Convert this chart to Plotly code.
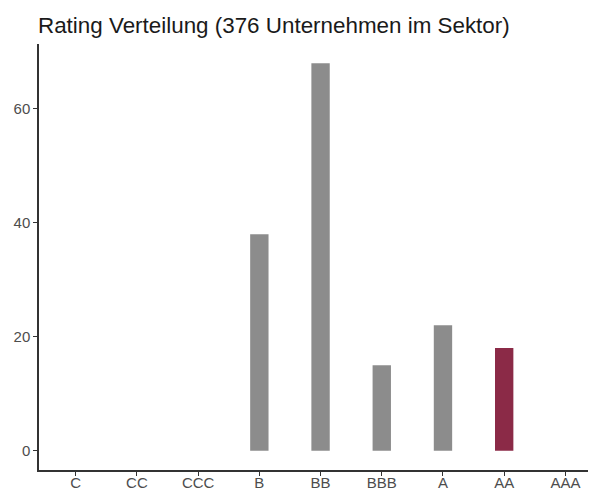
import plotly.graph_objects as go

categories = ["C", "CC", "CCC", "B", "BB", "BBB", "A", "AA", "AAA"]
counts = [0, 0, 0, 38, 68, 15, 22, 18, 0]
highlight = "AA"
y_ticks = [0, 20, 40, 60]

colors = ["#8B2A47" if c == highlight else "#8C8C8C" for c in categories]

# page body has an 8px margin, so the figure is sized/offset accordingly
W, H = 588, 483
OFF = 8

fig = go.Figure(
    go.Bar(
        x=categories,
        y=counts,
        marker=dict(color=colors, line=dict(width=0)),
        width=0.3,
        hoverinfo="x+y",
    )
)

fig.update_layout(
    width=W,
    height=H,
    margin=dict(l=39 - OFF, r=0, t=44 - OFF, b=21),
    plot_bgcolor="white",
    paper_bgcolor="white",
    showlegend=False,
    font=dict(family="Liberation Sans, Arial, sans-serif"),
    title=dict(
        text="Rating Verteilung (376 Unternehmen im Sektor)",
        x=(38 - OFF) / W,
        xref="container",
        xanchor="left",
        y=1 - (25 - OFF) / H,
        yref="container",
        yanchor="middle",
        font=dict(size=22.4, color="#1a1a1a"),
    ),
)

fig.update_xaxes(
    type="category",
    categoryorder="array",
    categoryarray=categories,
    range=[-0.6, 8.5],
    showline=True,
    linecolor="#333333",
    linewidth=1.5,
    ticks="outside",
    ticklen=4,
    tickcolor="#333333",
    tickfont=dict(size=15, color="#4d4d4d"),
    ticklabelstandoff=-6,
    showgrid=False,
    zeroline=False,
    automargin=False,
)

fig.update_yaxes(
    range=[-3.4, 71.4],
    tickvals=y_ticks,
    showline=True,
    linecolor="#333333",
    linewidth=1.5,
    ticks="outside",
    ticklen=4,
    tickcolor="#333333",
    tickfont=dict(size=15, color="#4d4d4d"),
    showgrid=False,
    zeroline=False,
    automargin=False,
)

fig.write_html("out.html")
